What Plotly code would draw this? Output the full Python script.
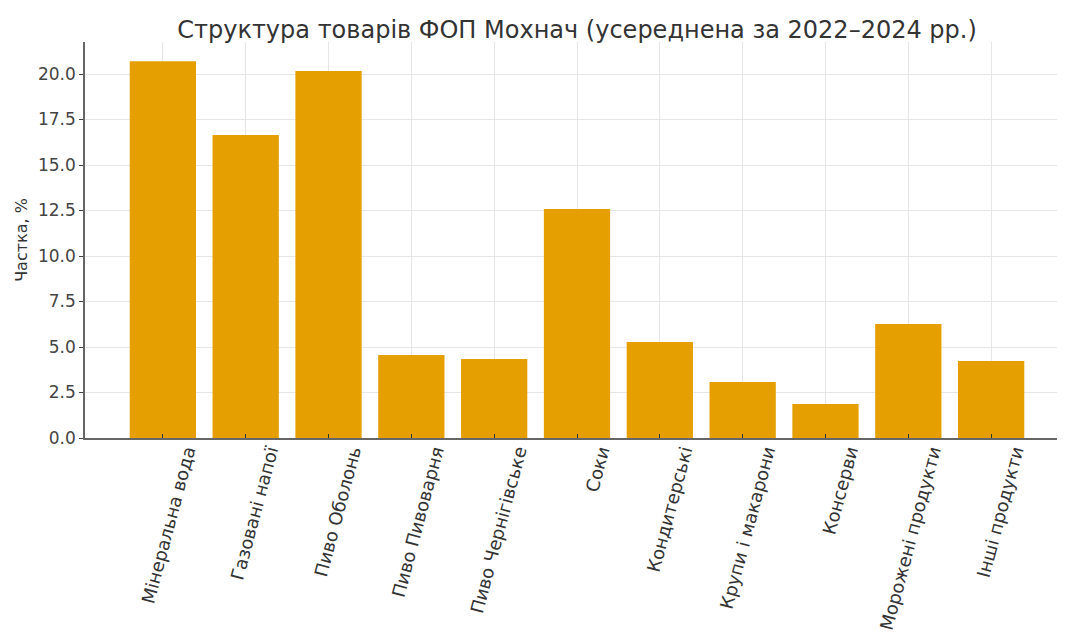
import plotly.graph_objects as go

categories = ["Мінеральна вода", "Газовані напої", "Пиво Оболонь", "Пиво Пивоварня",
              "Пиво Чернігівське", "Соки", "Кондитерські", "Крупи і макарони",
              "Консерви", "Морожені продукти", "Інші продукти"]
values = [20.7, 16.65, 20.16, 4.56, 4.34, 12.58, 5.27, 3.08, 1.87, 6.26, 4.23]
y_ticks = [0, 2.5, 5, 7.5, 10, 12.5, 15, 17.5, 20]
y_tick_labels = ["0.0", "2.5", "5.0", "7.5", "10.0", "12.5", "15.0", "17.5", "20.0"]

font_family = "DejaVu Sans"

fig = go.Figure(go.Bar(
    x=list(range(len(categories))),
    y=values,
    width=0.8,
    marker=dict(color="#E69F00", line=dict(width=0)),
))

fig.update_layout(
    width=1065, height=633,
    margin=dict(l=77, r=4, t=34, b=203, autoexpand=False),
    paper_bgcolor="white", plot_bgcolor="white",
    font=dict(family=font_family, color="#333333", size=15),
    title=dict(text="Структура товарів ФОП Мохнач (усереднена за 2022–2024 рр.)",
               x=0.5, xref="paper", xanchor="center", y=0.966, yref="container",
               yanchor="middle",
               font=dict(size=24, color="#333333", family=font_family)),
    showlegend=False,
    bargap=0.2,
)

fig.update_xaxes(
    range=[-0.94, 10.94],
    automargin=False,
    tickmode="array",
    tickvals=list(range(len(categories))),
    ticktext=categories,
    tickangle=-75,
    ticklabelshift=24,
    ticklabelstandoff=-6,
    ticks="inside", ticklen=4, tickcolor="#333333",
    showgrid=True, gridcolor="#e6e6e6", gridwidth=1,
    showline=True, linecolor="#666666", linewidth=1.5,
    tickfont=dict(size=18, color="#333333"),
    zeroline=False,
)

fig.update_yaxes(
    range=[0, 21.76],
    automargin=False,
    tickmode="array",
    tickvals=y_ticks,
    ticktext=y_tick_labels,
    ticks="outside", ticklen=4, tickcolor="#444444",
    showgrid=True, gridcolor="#e6e6e6", gridwidth=1,
    showline=True, linecolor="#666666", linewidth=1.5,
    tickfont=dict(size=17, color="#444444"),
    title=dict(text="Частка, %", font=dict(size=16, color="#333333"), standoff=6),
    zeroline=False,
)

fig.write_html("out.html")
